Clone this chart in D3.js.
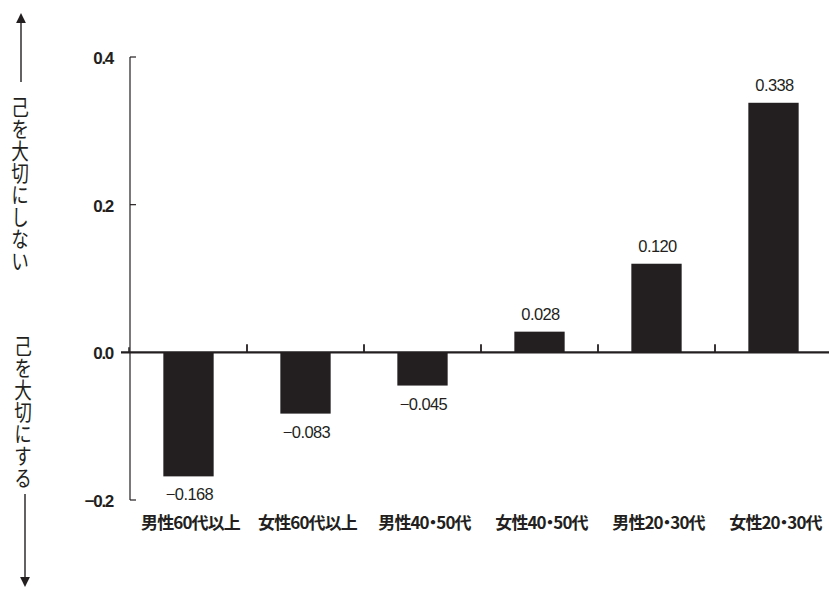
<!DOCTYPE html>
<html><head><meta charset="utf-8">
<script src="https://cdn.jsdelivr.net/npm/d3@7"></script>
<style>body{margin:0;background:#fff}</style>
</head><body>
<svg id="c" width="829" height="590"></svg>
<script>
const categories = ["男性60代以上","女性60代以上","男性40・50代","女性40・50代","男性20・30代","女性20・30代"];
const values = [-0.168,-0.083,-0.045,0.028,0.120,0.338];
const valueLabels = ["\u22120.168","\u22120.083","\u22120.045","0.028","0.120","0.338"];
const yTicks = [-0.2,0.0,0.2,0.4];
const yTickLabels = ["\u22120.2","0.0","0.2","0.4"];
const upLabel = "己を大切にしない";
const downLabel = "己を大切にする";

const svg = d3.select("#c");
const ink = "#231f20";
const x = d3.scaleBand().domain(categories).range([130, 832]).paddingInner(0.57).paddingOuter(0.285);
const xb = d3.scaleBand().domain(categories).range([130, 832]);
const y = d3.scaleLinear().domain([-0.2, 0.4]).range([500, 57]);

// left axis
svg.append("line").attr("x1",130).attr("x2",130).attr("y1",y(0.4)).attr("y2",y(-0.2)).attr("stroke",ink).attr("stroke-width",1.2);
[0.4,0.2,-0.2].forEach(v=>{
  svg.append("line").attr("x1",130).attr("x2",136).attr("y1",y(v)).attr("y2",y(v)).attr("stroke",ink).attr("stroke-width",1.2);
});
svg.selectAll(".yl").data(yTicks).join("text")
  .attr("x",113).attr("y",d=>y(d)+7).attr("text-anchor","end")
  .attr("font-family","Liberation Sans, Arial, sans-serif").attr("font-size",17).attr("font-weight","bold")
  .attr("fill",ink).attr("letter-spacing",-1.3)
  .text((d,i)=>yTickLabels[i]);

// bars
svg.selectAll(".bar").data(values).join("rect")
  .attr("x",(d,i)=>x(categories[i])).attr("width",x.bandwidth())
  .attr("y",d=>y(Math.max(0,d))).attr("height",d=>Math.abs(y(d)-y(0)))
  .attr("fill",ink);

// zero line
svg.append("line").attr("x1",121).attr("x2",829).attr("y1",y(0)).attr("y2",y(0)).attr("stroke",ink).attr("stroke-width",2.2);
categories.slice(1).forEach(c=>{
  const bx = xb(c);
  svg.append("line").attr("x1",bx).attr("x2",bx).attr("y1",y(0)).attr("y2",y(0)-8).attr("stroke",ink).attr("stroke-width",1.8);
});
svg.append("line").attr("x1",129).attr("x2",129).attr("y1",y(0)).attr("y2",y(0)-5).attr("stroke",ink).attr("stroke-width",1.5);

// value labels
svg.selectAll(".vl").data(values).join("text")
  .attr("x",(d,i)=>xb(categories[i])+xb.bandwidth()/2+1)
  .attr("y",d=> d<0 ? y(d)+24 : y(d)-12)
  .attr("text-anchor","middle")
  .attr("font-family","Liberation Sans, Arial, sans-serif").attr("font-size",16.5)
  .attr("fill",ink).attr("letter-spacing",-0.6)
  .text((d,i)=>valueLabels[i]);

// category labels
svg.selectAll(".cl").data(categories).join("text")
  .attr("x",d=>xb(d)+xb.bandwidth()/2+2).attr("y",529)
  .attr("text-anchor","middle")
  .attr("font-family","Noto Sans CJK JP, sans-serif").attr("font-size",17).attr("font-weight","bold")
  .style("font-feature-settings","'palt'")
  .attr("fill",ink).attr("letter-spacing",-0.9)
  .text(d=>d);

// left vertical labels with arrows
const defs = svg.append("defs");
defs.append("marker").attr("id","ah").attr("viewBox","0 0 10 10").attr("refX",5).attr("refY",5)
  .attr("markerWidth",7).attr("markerHeight",9).attr("orient","auto-start-reverse")
  .append("path").attr("d","M0,0 L10,5 L0,10 Z").attr("fill",ink);
svg.append("line").attr("x1",21).attr("x2",21).attr("y1",82).attr("y2",18).attr("stroke",ink).attr("stroke-width",1.4).attr("marker-end","url(#ah)");
svg.append("line").attr("x1",25).attr("x2",25).attr("y1",494).attr("y2",582).attr("stroke",ink).attr("stroke-width",1.4).attr("marker-end","url(#ah)");

function vtext(str, cx, top){
  svg.append("g").attr("transform",`translate(${cx},0) scale(0.8,1)`)
    .append("text").attr("x",0).attr("y",top)
    .attr("font-family","Noto Sans CJK JP, sans-serif").attr("font-size",22)
    .attr("fill",ink)
    .style("writing-mode","vertical-rl").style("text-orientation","upright")
    .attr("letter-spacing",0)
    .text(str);
}
vtext(upLabel, 20, 96);
vtext(downLabel, 23, 335);
</script>
</body></html>
